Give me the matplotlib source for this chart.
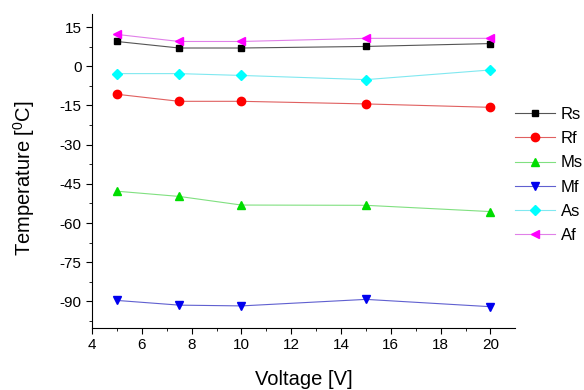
import numpy as np
import matplotlib.pyplot as plt

plt.rcParams['font.family'] = ['Liberation Sans', 'DejaVu Sans']
plt.rcParams['axes.unicode_minus'] = False

# datos
voltaje = [5, 7.5, 10, 15, 20]
rs = [9.5, 7.0, 7.0, 7.6, 8.7]
rf = [-10.7, -13.4, -13.4, -14.4, -15.7]
ms = [-47.8, -49.8, -53.1, -53.2, -55.6]
mf = [-89.6, -91.4, -91.7, -89.2, -92.0]
as_ = [-2.8, -2.8, -3.5, -5.1, -1.4]
af = [12.2, 9.5, 9.5, 10.7, 10.7]

series = [
    ('Rs', rs, 'black', '#555555', 's', 5.0),
    ('Rf', rf, 'red', '#e06060', 'o', 6.0),
    ('Ms', ms, '#00dd00', '#80e080', '^', 6.0),
    ('Mf', mf, '#0000ee', '#6060d0', 'v', 6.0),
    ('As', as_, 'cyan', '#80e8f0', 'D', 4.8),
    ('Af', af, 'magenta', '#e080e8', '<', 6.0),
]

fig = plt.figure(figsize=(5.84, 3.9), dpi=100)
ax = fig.add_axes([0.1575, 0.16, 0.725, 0.804])

for nombre, y, cm, cl, mk, tam in series:
    ax.plot(voltaje, y, color=cl, lw=0.8, marker=mk, markersize=tam,
            markerfacecolor=cm, markeredgecolor=cm, label=nombre)

ax.set_xlim(4, 21)
ax.set_ylim(-100, 20)
ax.set_xticks([4, 6, 8, 10, 12, 14, 16, 18, 20])
ax.set_xticks(np.arange(5, 21, 2), minor=True)
ax.set_yticks([15, 0, -15, -30, -45, -60, -75, -90])
ax.set_yticks(np.arange(-97.5, 20, 15), minor=True)
ax.spines['top'].set_visible(False)
ax.spines['right'].set_visible(False)
ax.tick_params(direction='out', length=4, labelsize=11)
ax.tick_params(which='minor', direction='out', length=2.5)

ax.set_xlabel('Voltage [V]', fontsize=14.5, labelpad=13)
ax.set_ylabel('Temperature [$\\mathregular{^0}$C]', fontsize=14.5)
ax.yaxis.set_label_coords(-0.13, 0.478)

fig.legend(loc='upper left', bbox_to_anchor=(0.868, 0.747), frameon=False,
           fontsize=12, borderpad=0, handlelength=2.4, handletextpad=0.35,
           labelspacing=0.55)

fig.savefig('out.png', dpi=100)
